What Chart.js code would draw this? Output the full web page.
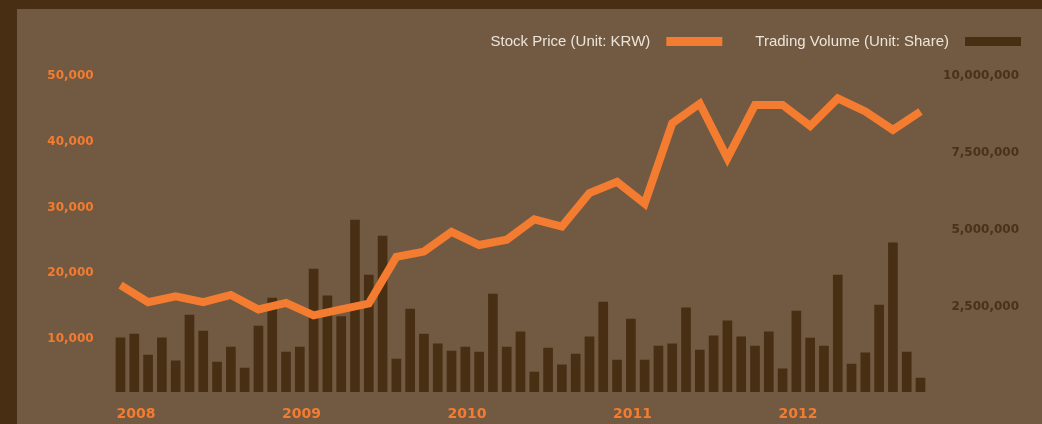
<!DOCTYPE html>
<html>
<head>
<meta charset="utf-8">
<script src="https://cdn.jsdelivr.net/npm/chart.js@4"></script>
<style>
  html, body { margin: 0; padding: 0; }
  body { width: 1042px; height: 424px; background: #482e13; position: relative; overflow: hidden; }
  #panel { position: absolute; left: 17px; top: 9px; right: 0; bottom: 0; background: #715a41; }
  #wrap { position: absolute; left: 0; top: 0; width: 1042px; height: 424px; }
</style>
</head>
<body>
<div id="panel"></div>
<div id="wrap"><canvas id="myChart" width="1042" height="424"></canvas></div>
<script>
// monthly categories, Jan 2008 - Nov 2012
const months = [
  "2008-01","2008-02","2008-03","2008-04","2008-05","2008-06","2008-07","2008-08","2008-09","2008-10","2008-11","2008-12",
  "2009-01","2009-02","2009-03","2009-04","2009-05","2009-06","2009-07","2009-08","2009-09","2009-10","2009-11","2009-12",
  "2010-01","2010-02","2010-03","2010-04","2010-05","2010-06","2010-07","2010-08","2010-09","2010-10","2010-11","2010-12",
  "2011-01","2011-02","2011-03","2011-04","2011-05","2011-06","2011-07","2011-08","2011-09","2011-10","2011-11","2011-12",
  "2012-01","2012-02","2012-03","2012-04","2012-05","2012-06","2012-07","2012-08","2012-09","2012-10","2012-11"
];

// stock price is plotted every second month
const priceMonths = [
  "2008-01","2008-03","2008-05","2008-07","2008-09","2008-11",
  "2009-01","2009-03","2009-05","2009-07","2009-09","2009-11",
  "2010-01","2010-03","2010-05","2010-07","2010-09","2010-11",
  "2011-01","2011-03","2011-05","2011-07","2011-09","2011-11",
  "2012-01","2012-03","2012-05","2012-07","2012-09","2012-11"
];
const stockPrice = [
  17900, 15300, 16200, 15300, 16400, 14200,
  15200, 13300, 14200, 15100, 22200, 23000,
  26000, 24000, 24800, 27900, 26800, 31900,
  33600, 30300, 42500, 45500, 37200, 45300,
  45300, 42100, 46300, 44300, 41500, 44300
];

const tradingVolume = [
  1760000, 1880000, 1200000, 1760000, 1010000, 2500000, 1980000, 970000, 1460000, 780000, 2140000, 3050000,
  1300000, 1460000, 3990000, 3120000, 2450000, 5580000, 3800000, 5060000, 1070000, 2690000, 1880000, 1560000,
  1330000, 1460000, 1300000, 3180000, 1460000, 1950000, 650000, 1430000, 880000, 1230000, 1790000, 2920000,
  1040000, 2370000, 1040000, 1490000, 1560000, 2730000, 1360000, 1820000, 2310000, 1790000, 1490000, 1950000,
  750000, 2630000, 1750000, 1490000, 3800000, 910000, 1270000, 2820000, 4840000, 1300000, 450000
];

const priceTicks = [10000, 20000, 30000, 40000, 50000];
const volumeTicks = [2500000, 5000000, 7500000, 10000000];

const ORANGE = "#f47c30";
const DARK = "#482e13";

// legend drawn right-aligned: text then swatch
const legendPlugin = {
  id: "swatchLegend",
  afterDraw(chart) {
    const ctx = chart.ctx;
    ctx.save();
    ctx.font = "15px 'Liberation Sans', Arial, sans-serif";
    ctx.textBaseline = "middle";
    ctx.textAlign = "right";
    let x = 1021;
    const items = chart.data.datasets.slice().reverse();
    items.forEach((ds) => {
      ctx.fillStyle = ds.legendColor;
      ctx.fillRect(x - 56, 37, 56, 9);
      x -= 56 + 16;
      ctx.fillStyle = "#ece4da";
      ctx.fillText(ds.label, x, 42);
      x -= ctx.measureText(ds.label).width + 33;
    });
    ctx.restore();
  }
};

const fixTicks = (list) => (axis) => {
  axis.ticks = list.map((v) => ({ value: v }));
};

const ctx = document.getElementById("myChart");

new Chart(ctx, {
  type: "bar",
  data: {
    labels: months,
    datasets: [
      {
        type: "line",
        label: "Stock Price (Unit: KRW)",
        data: priceMonths.map((m, i) => ({ x: m, y: stockPrice[i] })),
        yAxisID: "yPrice",
        borderColor: ORANGE,
        legendColor: ORANGE,
        borderWidth: 8,
        borderJoinStyle: "miter",
        pointRadius: 0,
        tension: 0,
        fill: false,
      },
      {
        label: "Trading Volume (Unit: Share)",
        data: tradingVolume,
        yAxisID: "yVolume",
        backgroundColor: DARK,
        legendColor: DARK,
        barThickness: 9,
      },
    ],
  },
  options: {
    responsive: false,
    animation: false,
    devicePixelRatio: 1,
    layout: { padding: { top: 74, right: 23, left: 0, bottom: 0 } },
    plugins: {
      legend: { display: false },
      tooltip: { enabled: false },
    },
    scales: {
      x: {
        offset: true,
        grid: { display: false, drawTicks: false },
        border: { display: false },
        afterFit: (s) => { s.height = 32; },
        ticks: {
          autoSkip: false,
          maxRotation: 0,
          align: "start",
          labelOffset: -4,
          padding: 14,
          color: ORANGE,
          font: { family: "'DejaVu Sans'", size: 14, weight: "bold" },
          callback: function (val, i) {
            const m = months[i];
            return m.endsWith("-01") ? m.slice(0, 4) : "";
          },
        },
      },
      yPrice: {
        position: "left",
        min: 1650,
        max: 50000,
        afterBuildTicks: fixTicks(priceTicks),
        afterFit: (s) => { s.width = 113.6; },
        grid: { display: false, drawTicks: false },
        border: { display: false },
        ticks: {
          padding: 20,
          labelOffset: 2,
          color: ORANGE,
          font: { family: "'DejaVu Sans'", size: 12, weight: "bold" },
          callback: (v) => v.toLocaleString("en-US"),
        },
      },
      yVolume: {
        position: "right",
        min: 0,
        max: 10325000,
        afterBuildTicks: fixTicks(volumeTicks),
        afterFit: (s) => { s.width = 91.6; },
        grid: { display: false, drawTicks: false },
        border: { display: false },
        ticks: {
          crossAlign: "far",
          labelOffset: -8,
          color: "#4a3117",
          font: { family: "'DejaVu Sans'", size: 12, weight: "bold" },
          callback: (v) => v.toLocaleString("en-US"),
        },
      },
    },
  },
  plugins: [legendPlugin],
});
</script>
</body>
</html>
